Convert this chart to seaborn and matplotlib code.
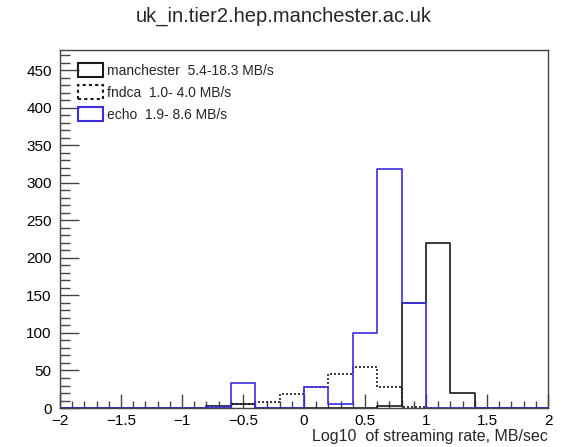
import numpy as np
import pandas as pd
import matplotlib
matplotlib.use("Agg")
import matplotlib.pyplot as plt
from matplotlib.patches import Patch
from matplotlib.ticker import MultipleLocator
import seaborn as sns

# bin edges: log10 rate, 20 bins of 0.2 from -2 to 2
bin_edges = [-2.0, -1.8, -1.6, -1.4, -1.2, -1.0, -0.8, -0.6, -0.4, -0.2, 0.0,
             0.2, 0.4, 0.6, 0.8, 1.0, 1.2, 1.4, 1.6, 1.8, 2.0]
bin_centers = [-1.9, -1.7, -1.5, -1.3, -1.1, -0.9, -0.7, -0.5, -0.3, -0.1,
               0.1, 0.3, 0.5, 0.7, 0.9, 1.1, 1.3, 1.5, 1.7, 1.9]

manchester = [0, 0, 0, 0, 0, 0, 3, 5, 0, 0, 0, 0, 0, 3, 140, 220, 20, 0, 0, 0]
fndca = [0, 0, 0, 0, 0, 0, 1, 5, 8, 19, 28, 45, 55, 28, 2, 0, 0, 0, 0, 0]
echo = [0, 0, 0, 0, 0, 0, 2, 33, 0, 0, 28, 5, 100, 318, 140, 0, 0, 0, 0, 0]

labels = ["manchester  5.4-18.3 MB/s", "fndca  1.0- 4.0 MB/s", "echo  1.9- 8.6 MB/s"]
title = "uk_in.tier2.hep.manchester.ac.uk"
xlabel = "Log10  of streaming rate, MB/sec"
xtick_vals = [-2, -1.5, -1, -0.5, 0, 0.5, 1, 1.5, 2]
xtick_labels = ["\u22122", "\u22121.5", "\u22121", "\u22120.5", "0", "0.5", "1", "1.5", "2"]

sns.set_theme(style="white")
plt.rcParams['font.family'] = ['Liberation Sans', 'DejaVu Sans']

fig = plt.figure(figsize=(5.67, 4.47), dpi=100)
ax = fig.add_axes([0.1058, 0.0872, 0.8607, 0.8008])

black = "#1a1a1a"
blue = "#3b2ee0"
styles = [
    (manchester, black, "-"),
    (fndca, black, (0, (1.2, 1.2))),
    (echo, blue, "-"),
]
for vals, col, ls in styles:
    df = pd.DataFrame({"x": bin_centers, "w": vals})
    sns.histplot(data=df, x="x", weights="w", bins=bin_edges, element="step",
                 fill=False, color=col, linestyle=ls, linewidth=1.2, ax=ax)

ax.set_xlim(-2, 2)
ax.set_ylim(0, 477)
ax.xaxis.set_major_locator(MultipleLocator(0.5))
ax.xaxis.set_minor_locator(MultipleLocator(0.1))
ax.yaxis.set_major_locator(MultipleLocator(50))
ax.yaxis.set_minor_locator(MultipleLocator(10))
ax.tick_params(axis="both", which="both", direction="in", bottom=True, left=True,
               top=False, right=False, colors="#444444", labelcolor="black",
               labelsize=11)
ax.tick_params(axis="x", which="major", length=10, width=1.0, pad=4)
ax.tick_params(axis="x", which="minor", length=5, width=1.0)
ax.tick_params(axis="y", which="major", length=14, width=1.0, pad=6)
ax.tick_params(axis="y", which="minor", length=7, width=1.0)
ax.set_xticks(xtick_vals)
ax.set_xticklabels(xtick_labels)

for s in ax.spines.values():
    s.set_color("#444444")
    s.set_linewidth(1.0)
    s.set_visible(True)

ax.set_ylabel("")
ax.set_xlabel(xlabel, fontsize=11.5, loc="right", labelpad=1)
fig.suptitle(title, fontsize=14.5, y=0.985)

handles = [
    Patch(facecolor="none", edgecolor=black, linewidth=1.5, linestyle="-"),
    Patch(facecolor="none", edgecolor=black, linewidth=1.5, linestyle=(0, (1.5, 1.5))),
    Patch(facecolor="none", edgecolor=blue, linewidth=1.5, linestyle="-"),
]
ax.legend(handles, labels, loc="upper left", bbox_to_anchor=(0.026, 0.98),
          frameon=False, fontsize=10, handlelength=1.8, handleheight=1.25,
          handletextpad=0.25, labelspacing=0.5, borderaxespad=0)

fig.savefig("out.png", dpi=100, facecolor="white")
